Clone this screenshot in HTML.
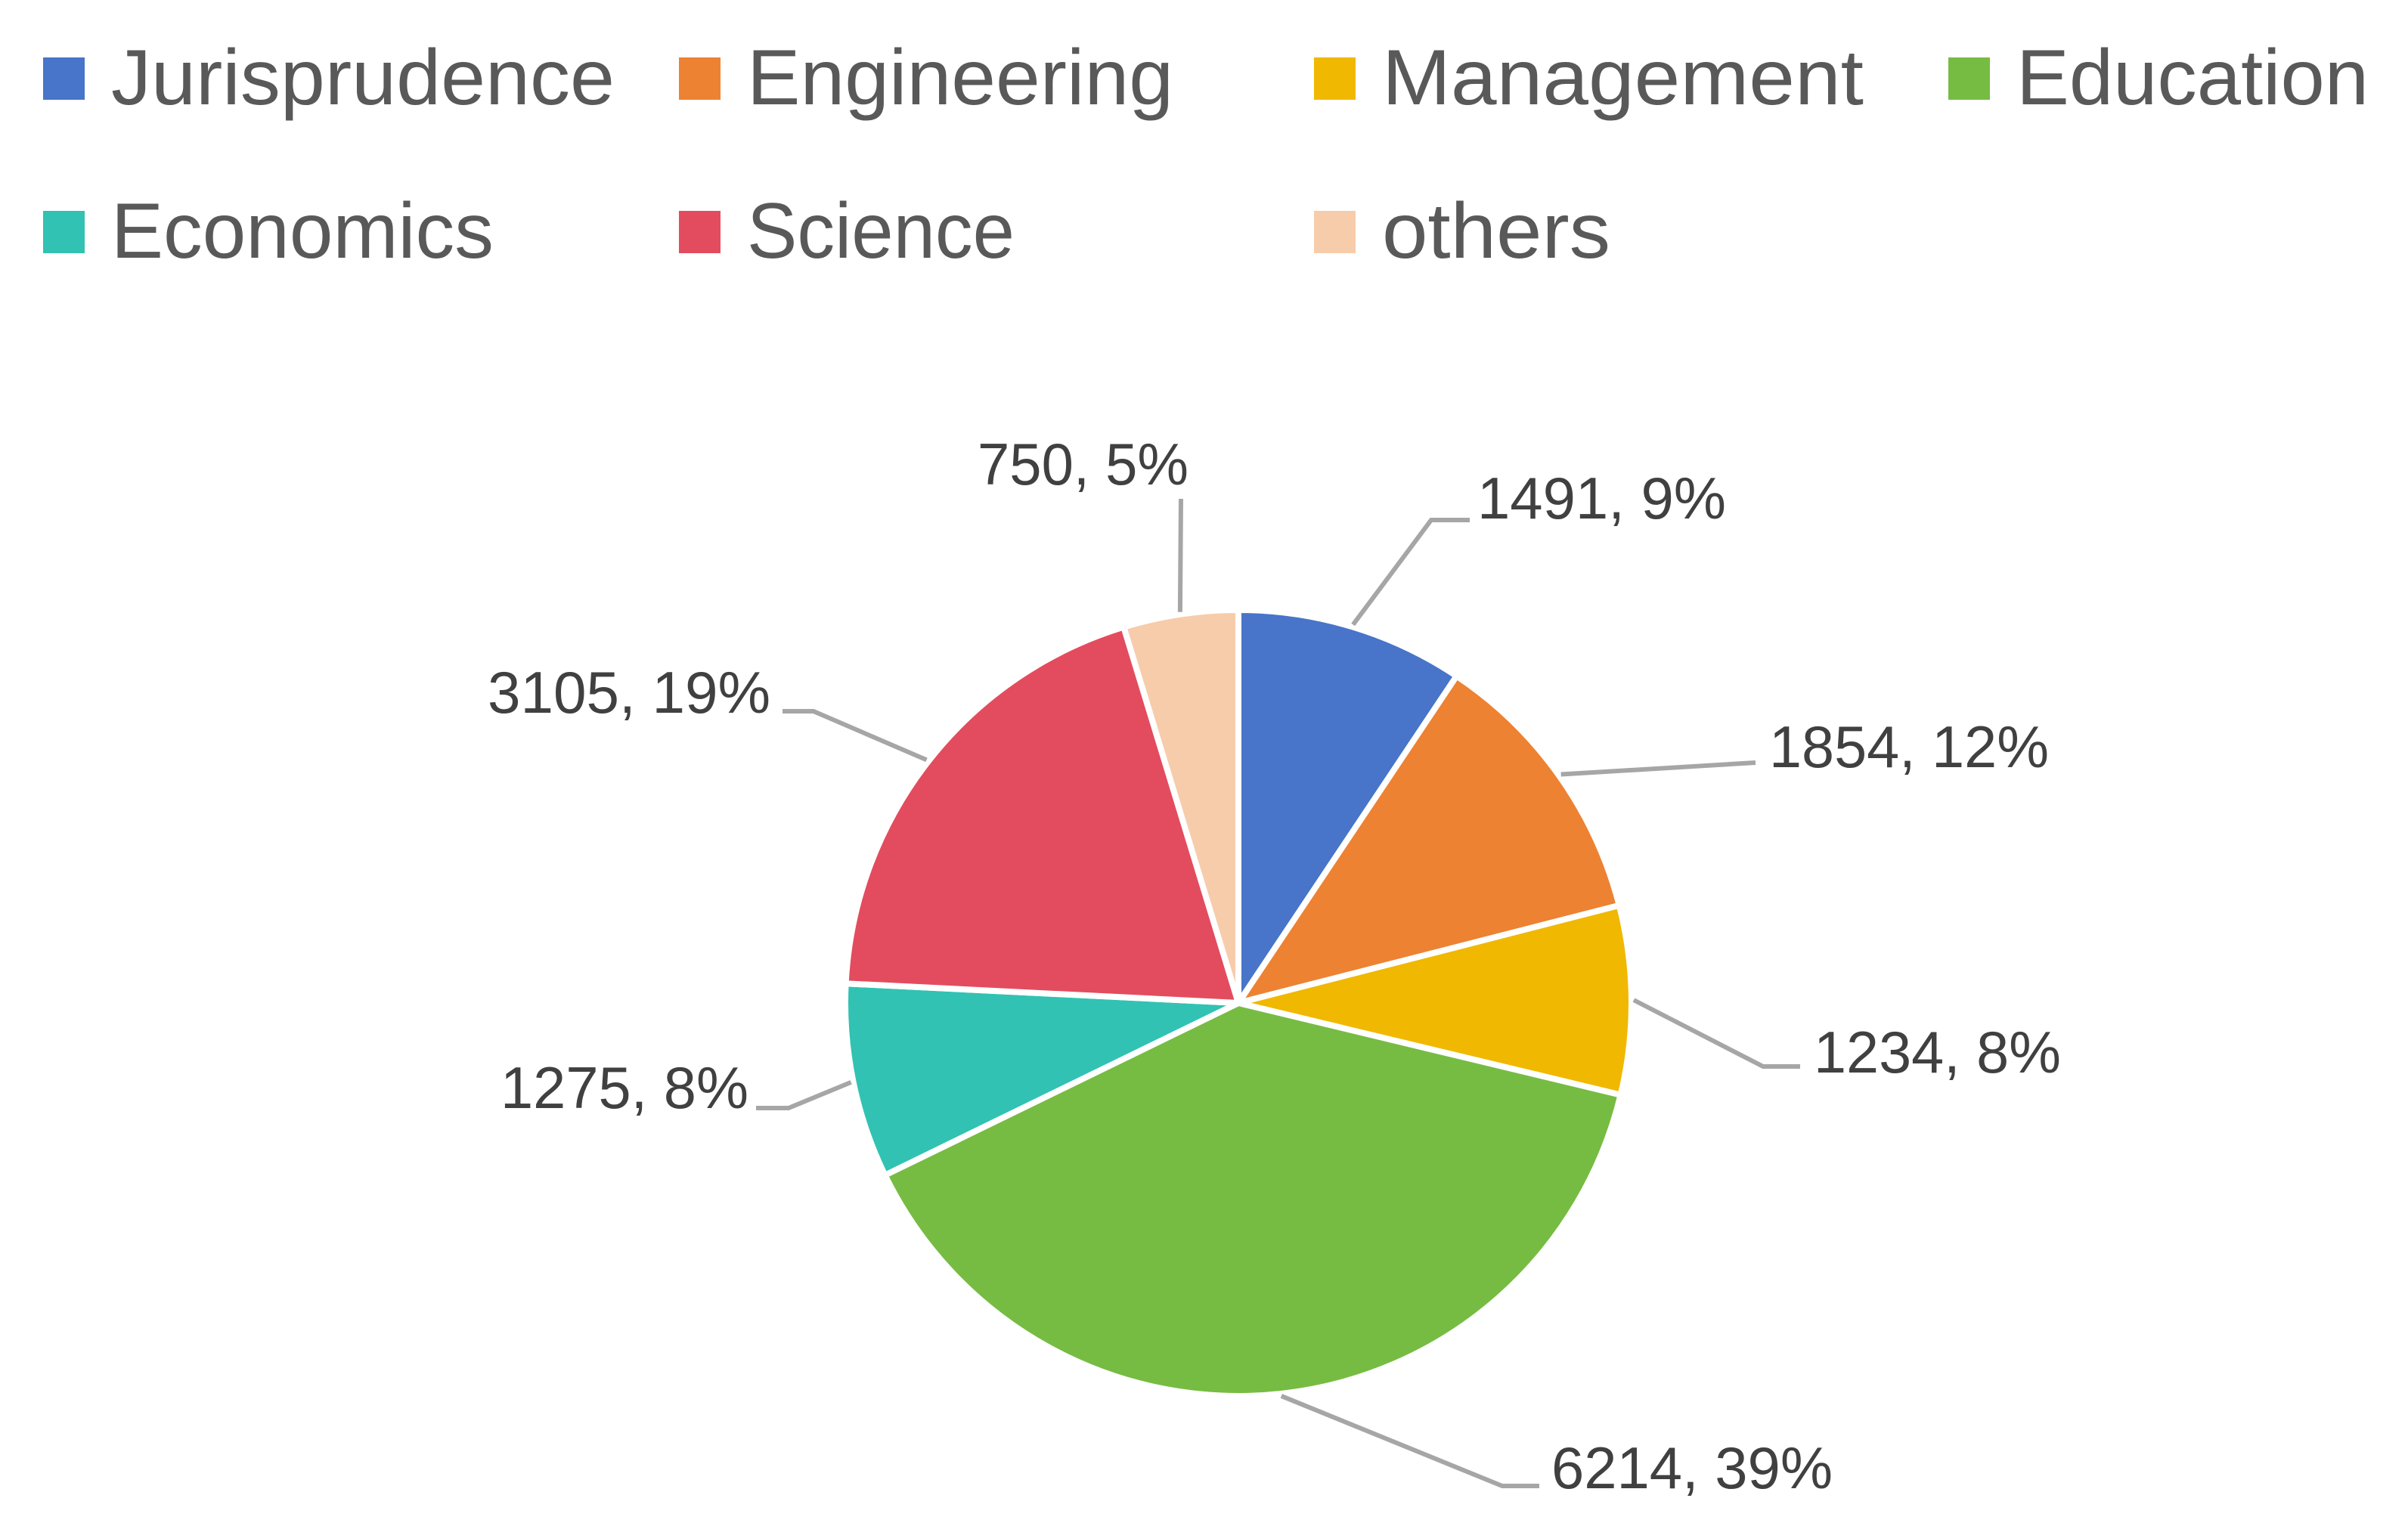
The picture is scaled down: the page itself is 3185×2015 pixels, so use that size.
<!DOCTYPE html>
<html><head><meta charset="utf-8"><style>
html,body{margin:0;padding:0;background:#fff;}
svg{display:block;font-family:"Liberation Sans",sans-serif;}
</style></head><body>
<svg id="chart" width="3185" height="2015" viewBox="0 0 3185 2015" xmlns="http://www.w3.org/2000/svg">
<g id="legend"></g>
<g id="slices"></g>
<g id="leaders"></g>
<g id="labels"></g>
</svg>
<script>
const categories = ["Jurisprudence","Engineering","Management","Education","Economics","Science","others"];
const values = [1491,1854,1234,6214,1275,3105,750];
const percentLabels = ["9%","12%","8%","39%","8%","19%","5%"];
const colors = ["#4874C9","#ED8232","#F0B800","#76BC43","#31C2B3","#E34C5E","#F7CCAB"];

const NS="http://www.w3.org/2000/svg";
const cx=1638, cy=1327, R=520;
const total=values.reduce((a,b)=>a+b,0);
function angleToXY(a,r){return [cx+r*Math.sin(a), cy-r*Math.cos(a)];}
function mk(tag,attrs,parent){const e=document.createElementNS(NS,tag);for(const k in attrs)e.setAttribute(k,attrs[k]);parent.appendChild(e);return e;}

// legend
const legend=document.getElementById('legend');
const legPos=[[57,76],[898,76],[1738,76],[2577,76],[57,279],[898,279],[1738,279]];
const legW=[666,564,637,466,506,354,302];
categories.forEach((c,i)=>{
  const g=mk('g',{},legend);
  
  
  const [x,y]=legPos[i];
  const sw=mk('rect',{x:x,y:y,width:55,height:56,fill:colors[i]},g);
  
  
  const t=mk('text',{x:x+90,y:y+62,'font-size':104,fill:'#595959',textLength:legW[i],lengthAdjust:'spacingAndGlyphs'},g);
  
  
  t.textContent=c;
});

// slices
const slices=document.getElementById('slices');
let acc=0;
const mids=[];
values.forEach((v,i)=>{
  const a0=acc/total*2*Math.PI; acc+=v; const a1=acc/total*2*Math.PI;
  mids.push((a0+a1)/2);
  const [x0,y0]=angleToXY(a0,R),[x1,y1]=angleToXY(a1,R);
  const large=(a1-a0)>Math.PI?1:0;
  const p=mk('path',{d:`M${cx},${cy} L${x0},${y0} A${R},${R} 0 ${large} 1 ${x1},${y1} Z`,fill:colors[i],stroke:'#fff','stroke-width':8,'stroke-linejoin':'round'},slices);
  
  
});

// labels + leaders
const labelPos=[[1954,686],[2340,1015],[2399,1419],[2052,1969],[662,1466],[645,943],[1293,641]];
const labelW=[329,370,327,372,328,374,279];
const elbows=[[1893,688,1944,688],[2322,1009,2322,1009],[2332,1411,2381,1411],[1987,1966,2036,1966],[1043,1466,1000,1466],[1076,941,1035,941],[1562,660,1562,660]];
const leaders=document.getElementById('leaders'), labels=document.getElementById('labels');
values.forEach((v,i)=>{
  const [sx,sy]=angleToXY(mids[i],R+3);
  const e=elbows[i];
  const l=mk('polyline',{points:`${sx},${sy} ${e[0]},${e[1]} ${e[2]},${e[3]}`,fill:'none',stroke:'#A6A6A6','stroke-width':6},leaders);
  
  
  const [lx,ly]=labelPos[i];
  const t=mk('text',{x:lx,y:ly,'font-size':78,fill:'#404040',textLength:labelW[i],lengthAdjust:'spacingAndGlyphs'},labels);
  
  
  t.textContent=v+', '+percentLabels[i];
});
</script>
</body></html>
